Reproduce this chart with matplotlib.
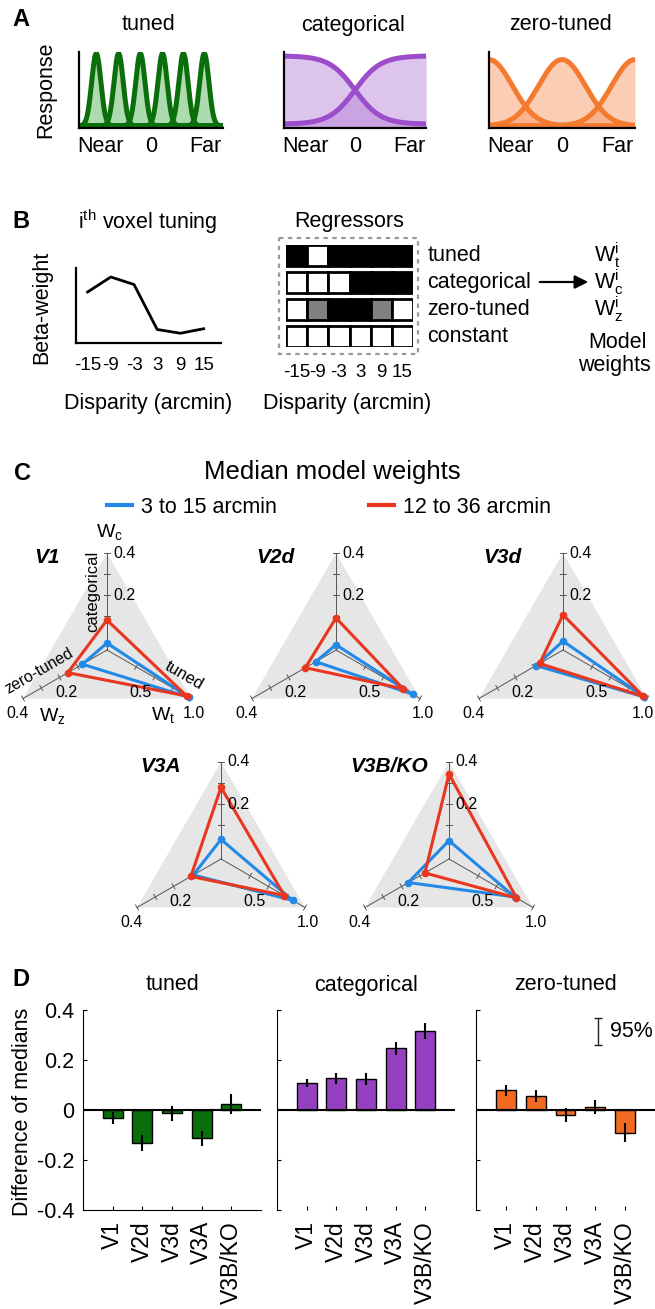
import numpy as np
import matplotlib.pyplot as plt
from matplotlib.patches import Rectangle, Polygon
from matplotlib.lines import Line2D

plt.rcParams['font.family'] = ['Liberation Sans', 'DejaVu Sans']
plt.rcParams['mathtext.fontset'] = 'custom'
plt.rcParams['mathtext.rm'] = 'Liberation Sans'
plt.rcParams['mathtext.it'] = 'Liberation Sans:italic'
plt.rcParams['axes.unicode_minus'] = False

# ---- data ----
# A: schematic tuning profiles
tuned_centers = [0.12, 0.275, 0.426, 0.58, 0.725, 0.87]
tuned_sigma = 0.032
cat_mid, cat_slope = 0.5, 11.0
zero_centers = [0.0, 0.5, 1.0]
zero_sigma = 0.16

# B: voxel tuning and regressors
disparity = [-15, -9, -3, 3, 9, 15]
voxel_beta = [0.68, 0.88, 0.78, 0.18, 0.13, 0.19]
reg_names = ['tuned', 'categorical', 'zero-tuned', 'constant']
reg_values = [[0.0, 1.0, 0.0, 0.0, 0.0, 0.0],
              [1.0, 1.0, 1.0, 0.0, 0.0, 0.0],
              [1.0, 0.5, 0.0, 0.0, 0.5, 1.0],
              [1.0, 1.0, 1.0, 1.0, 1.0, 1.0]]

# C: median model weights (tuned, categorical, zero-tuned)
rois = ['V1', 'V2d', 'V3d', 'V3A', 'V3B/KO']
w_small_t = [0.97, 0.90, 0.96, 0.83, 0.75]
w_small_c = [-0.027, -0.035, -0.018, 0.033, 0.027]
w_small_z = [0.075, 0.051, 0.088, 0.092, 0.163]
w_large_t = [0.94, 0.77, 0.95, 0.717, 0.774]
w_large_c = [0.082, 0.092, 0.107, 0.28, 0.343]
w_large_z = [0.155, 0.108, 0.068, 0.105, 0.072]

# D: difference of medians
d_tuned = [-0.031, -0.131, -0.013, -0.113, 0.024]
d_tuned_err = [0.025, 0.033, 0.030, 0.030, 0.040]
d_cat = [0.109, 0.127, 0.125, 0.247, 0.316]
d_cat_err = [0.016, 0.022, 0.023, 0.025, 0.031]
d_zero = [0.080, 0.057, -0.020, 0.013, -0.091]
d_zero_err = [0.022, 0.025, 0.027, 0.027, 0.038]

GREEN, GREEN_F = '#0a6e0a', '#4caf50'
PURPLE, PURPLE_F = '#9b4dca', '#b57ed6'
ORANGE, ORANGE_F = '#f47a30', '#f7925a'
BLUE, RED = '#2389e6', '#e8361f'

W, H = 655, 1309
fig = plt.figure(figsize=(W / 100, H / 100), dpi=100)


def px_axes(x0, y0, x1, y1):
    return fig.add_axes([x0 / W, 1 - y1 / H, (x1 - x0) / W, (y1 - y0) / H])


ov = px_axes(0, 0, W, H)
ov.set_xlim(0, W)
ov.set_ylim(H, 0)
ov.axis('off')
ov.set_zorder(10)

FS = 15.5

# ---- panel A ----
xs = np.linspace(0, 1, 500)
curves_a = [
    [0.03 + 0.95 * np.exp(-(xs - c) ** 2 / (2 * tuned_sigma ** 2)) for c in tuned_centers],
    [0.05 + 0.9 / (1 + np.exp(cat_slope * (xs - cat_mid))),
     0.05 + 0.9 / (1 + np.exp(-cat_slope * (xs - cat_mid)))],
    [0.03 + 0.87 * np.exp(-(xs - c) ** 2 / (2 * zero_sigma ** 2)) for c in zero_centers],
]
a_boxes = [(79, 223), (284, 426), (489, 635)]
a_titles = ['tuned', 'categorical', 'zero-tuned']
a_cols = [(GREEN, GREEN_F), (PURPLE, PURPLE_F), (ORANGE, ORANGE_F)]
for (x0, x1), curves, title, (lc, fc) in zip(a_boxes, curves_a, a_titles, a_cols):
    ax = px_axes(x0, 52, x1, 128)
    for y in curves:
        ax.fill_between(xs, 0, y, color=fc, alpha=0.45, lw=0)
        ax.plot(xs, y, color=lc, lw=3.6, solid_capstyle='butt')
    ax.set_xlim(0, 1)
    ax.set_ylim(0, 1.0)
    for s in ['top', 'right']:
        ax.spines[s].set_visible(False)
    for s in ['left', 'bottom']:
        ax.spines[s].set_linewidth(1.6)
    ax.set_yticks([])
    ax.set_xticks([0.15, 0.5, 0.88], ['Near', '0', 'Far'], fontsize=FS)
    ax.tick_params(length=0, pad=6)
    ov.text((x0 + x1) / 2 - 2, 25, title, fontsize=FS, ha='center', va='center')
ov.text(12, 20, 'A', fontsize=17, fontweight='bold', ha='left', va='center')
ov.text(46, 90, 'Response', fontsize=FS, rotation=90, ha='center', va='center')

# ---- panel B ----
ov.text(12, 222, 'B', fontsize=17, fontweight='bold', ha='left', va='center')
ax = px_axes(76, 268, 221, 343)
ax.plot(disparity, voxel_beta, color='k', lw=2)
ax.set_xlim(-18, 19.5)
ax.set_ylim(0, 1)
for s in ['top', 'right']:
    ax.spines[s].set_visible(False)
for s in ['left', 'bottom']:
    ax.spines[s].set_linewidth(1.6)
ax.set_yticks([])
ax.set_xticks(disparity, [str(d) for d in disparity], fontsize=13.5)
ax.tick_params(length=0, pad=10)
ov.text(148, 222, r'i$^{\mathrm{th}}$ voxel tuning', fontsize=FS, ha='center', va='center')
ov.text(42, 307, 'Beta-weight', fontsize=FS, rotation=90, ha='center', va='center')
ov.text(148, 403, 'Disparity (arcmin)', fontsize=FS, ha='center', va='center')

pitch = 1.275
ax = px_axes(286, 245, 413, 347)
for i, row in enumerate(reg_values):
    for j, v in enumerate(row):
        ax.add_patch(Rectangle((j, i * pitch), 1, 1, facecolor=plt.cm.gray(float(v)),
                               edgecolor='k', lw=2))
    ax.text(6.68, i * pitch + 0.5, reg_names[i], fontsize=FS, ha='left', va='center')
ax.add_patch(Rectangle((-0.33, -0.33), 6.57, 3 * pitch + 1.66, fill=False,
                       ls=(0, (2, 2)), ec='#9a9a9a', lw=1.6, clip_on=False))
ax.set_xlim(0, 6)
ax.set_ylim(3 * pitch + 1, 0)
for s in ax.spines.values():
    s.set_visible(False)
ax.set_yticks([])
ax.set_xticks(np.arange(6) + 0.5, [str(d) for d in disparity], fontsize=13.5)
ax.tick_params(length=0, pad=12)
ov.text(349, 222, 'Regressors', fontsize=FS, ha='center', va='center')
ov.text(347, 403, 'Disparity (arcmin)', fontsize=FS, ha='center', va='center')
ov.annotate('', xy=(591, 282), xytext=(537, 282),
            arrowprops=dict(arrowstyle='-|>', color='k', lw=1.6, mutation_scale=20))
for yy, sub in zip([255, 282, 309], ['t', 'c', 'z']):
    ov.text(594, yy, r'$\mathrm{W}_\mathrm{%s}^\mathrm{i}$' % sub, fontsize=FS,
            ha='left', va='center')
ov.text(617, 342, 'Model', fontsize=FS, ha='center', va='center')
ov.text(614, 366, 'weights', fontsize=FS, ha='center', va='center')

# ---- panel C ----
ov.text(14, 473, 'C', fontsize=17, fontweight='bold', ha='left', va='center')
ov.text(332, 472, 'Median model weights', fontsize=18.5, ha='center', va='center')

R = 97.0
CZ_MIN, CZ_MAX = -0.06, 0.4
T_MIN, T_MAX = -0.15, 1.0
ang = {'c': np.pi / 2, 'z': np.radians(210), 't': np.radians(-30)}
U = {k: np.array([np.cos(a), np.sin(a)]) for k, a in ang.items()}


def rad(v, k):
    if k == 't':
        return (v - T_MIN) / (T_MAX - T_MIN)
    return (v - CZ_MIN) / (CZ_MAX - CZ_MIN)


def tri_pts(t, c, z):
    pts = [rad(c, 'c') * U['c'], rad(t, 't') * U['t'], rad(z, 'z') * U['z']]
    pts.append(pts[0])
    return np.array(pts)


centers = [(107, 650), (336, 650), (563, 650), (221, 859), (449, 859)]
tick_vals = {'c': [0.1, 0.2, 0.3, 0.4], 'z': [0.1, 0.2, 0.3, 0.4], 't': [0.25, 0.5, 0.75, 1.0]}
S = 140
for k_roi, (cx, cy) in enumerate(centers):
    ax = px_axes(cx - S, cy - S, cx + S, cy + S)
    ax.set_xlim(-S / R, S / R)
    ax.set_ylim(-S / R, S / R)
    ax.axis('off')
    ax.add_patch(Polygon([U['c'], U['z'], U['t']], closed=True, facecolor='#e6e6e6', lw=0))
    for k in ['c', 'z', 't']:
        ax.plot([0, U[k][0]], [0, U[k][1]], color='#555555', lw=0.7)
        n = np.array([-U[k][1], U[k][0]])
        for tv in tick_vals[k]:
            p = rad(tv, k) * U[k]
            a, b = p - 0.03 * n, p + 0.03 * n
            ax.plot([a[0], b[0]], [a[1], b[1]], color='#555555', lw=0.7)
    tfs = 11.5
    ax.text(0.07, 1.0, '0.4', fontsize=tfs, ha='left', va='center')
    ax.text(0.07, rad(0.2, 'c'), '0.2', fontsize=tfs, ha='left', va='center')
    ax.text(-0.42, -0.435, '0.2', fontsize=tfs, ha='center', va='center')
    ax.text(-0.92, -0.65, '0.4', fontsize=tfs, ha='center', va='center')
    ax.text(0.35, -0.435, '0.5', fontsize=tfs, ha='center', va='center')
    x_one = min(0.90, (643 - cx) / R)
    ax.text(x_one, -0.65, '1.0', fontsize=tfs, ha='center', va='center')
    ax.text(-0.62, 0.95, rois[k_roi], fontsize=15, fontweight='bold', style='italic',
            ha='center', va='center')
    for (tt, cc, zz), col in [((w_small_t[k_roi], w_small_c[k_roi], w_small_z[k_roi]), BLUE),
                              ((w_large_t[k_roi], w_large_c[k_roi], w_large_z[k_roi]), RED)]:
        pts = tri_pts(tt, cc, zz)
        ax.plot(pts[:, 0], pts[:, 1], color=col, lw=2.2, marker='o', ms=4.5,
                markevery=[0, 1, 2], solid_joinstyle='miter')
    if k_roi == 0:
        ax.text(0.03, 1.22, r'$\mathrm{W}_\mathrm{c}$', fontsize=14, ha='center', va='center')
        ax.text(-0.56, -0.68, r'$\mathrm{W}_\mathrm{z}$', fontsize=14, ha='center', va='center')
        ax.text(0.58, -0.67, r'$\mathrm{W}_\mathrm{t}$', fontsize=14, ha='center', va='center')
        ax.text(-0.15, 0.6, 'categorical', fontsize=12, rotation=90, ha='center', va='center')
        ax.text(-0.70, -0.22, 'zero-tuned', fontsize=11.5, rotation=30, ha='center',
                va='center', rotation_mode='anchor')
        ax.text(0.80, -0.26, 'tuned', fontsize=12, rotation=-30, ha='center', va='center',
                rotation_mode='anchor')

leg_handles = [Line2D([], [], color=BLUE, lw=3), Line2D([], [], color=RED, lw=3)]
fig.legend(leg_handles, ['3 to 15 arcmin', '12 to 36 arcmin'], loc='center',
           bbox_to_anchor=(329 / W, 1 - 507 / H), ncol=2, frameon=False, fontsize=FS,
           handlelength=1.15, handletextpad=0.4, columnspacing=4.3)

# ---- panel D ----
ov.text(12, 980, 'D', fontsize=17, fontweight='bold', ha='left', va='center')
d_boxes = [(83, 261), (277, 455), (476, 655)]
d_sets = [(d_tuned, d_tuned_err, GREEN, 'tuned'),
          (d_cat, d_cat_err, '#9440c0', 'categorical'),
          (d_zero, d_zero_err, '#f26a21', 'zero-tuned')]
xpos = np.arange(1, len(rois) + 1)
for i, ((x0, x1), (vals, errs, col, title)) in enumerate(zip(d_boxes, d_sets)):
    ax = px_axes(x0, 1010, x1, 1210)
    ax.bar(xpos, vals, width=0.67, color=col, edgecolor='k', lw=1, zorder=2)
    ax.errorbar(xpos, vals, yerr=errs, fmt='none', ecolor='k', elinewidth=1.5,
                capsize=0, zorder=3)
    ax.axhline(0, color='k', lw=1.5, zorder=4)
    ax.set_xlim(0, 6)
    ax.set_ylim(-0.4, 0.4)
    for s in ['top', 'right']:
        ax.spines[s].set_visible(False)
    ax.spines['left'].set_linewidth(0.8)
    ax.spines['bottom'].set_linewidth(0.8)
    if i > 0:
        ax.spines['bottom'].set_visible(False)
    ax.set_yticks([-0.4, -0.2, 0, 0.2, 0.4])
    if i == 0:
        ax.set_yticklabels(['-0.4', '-0.2', '0', '0.2', '0.4'], fontsize=FS)
    else:
        ax.set_yticklabels([])
    ax.set_xticks(xpos, rois, rotation=90, fontsize=16.5)
    ax.tick_params(direction='in', length=3, width=0.8, pad=6)
    ax.tick_params(axis='x', pad=8)
    ov.text((x0 + x1) / 2, 985, title, fontsize=FS, ha='center', va='center')
    if i == 2:
        ax.errorbar([4.09], [0.314], yerr=[0.054], fmt='none', ecolor='#222222',
                    elinewidth=1, capsize=3, capthick=1)
        ax.text(4.5, 0.314, '95%', fontsize=FS, ha='left', va='center')
ov.text(23, 1112, 'Difference of medians', fontsize=FS, rotation=90, ha='center', va='center')

fig.savefig('out.png', dpi=100, facecolor='white')
